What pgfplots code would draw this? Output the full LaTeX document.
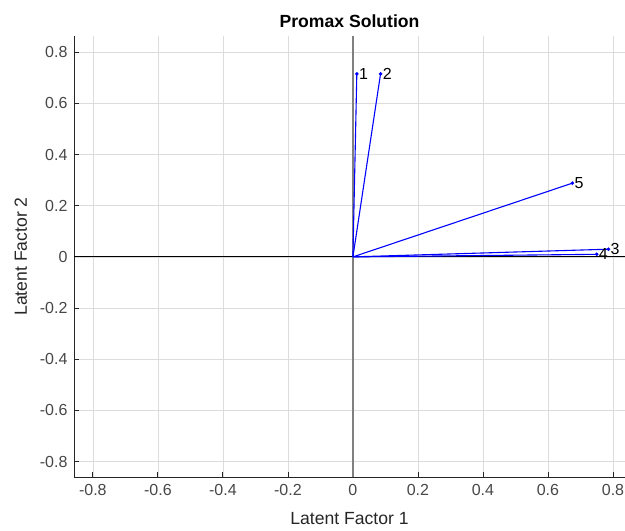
\documentclass[border=0pt]{standalone}
\usepackage{pgfplots}
\pgfplotsset{compat=1.18}
\usepackage{fontspec}
\setmainfont{Liberation Sans}
\definecolor{axgray}{RGB}{38,38,38}
\definecolor{gridgray}{RGB}{220,220,220}
\begin{document}
\begin{tikzpicture}[x=1pt,y=1pt]
\begin{axis}[
  scale only axis,
  width=551pt, height=441pt,
  xmin=-0.858, xmax=0.837,
  ymin=-0.86, ymax=0.863,
  axis x line*=bottom, axis y line*=left,
  axis line style={axgray, line width=0.8pt},
  xtick={-0.8,-0.6,...,0.81}, ytick={-0.8,-0.6,...,0.81},
  xticklabels={-0.8,-0.6,-0.4,-0.2,0,0.2,0.4,0.6,0.8},
  yticklabels={-0.8,-0.6,-0.4,-0.2,0,0.2,0.4,0.6,0.8},
  tick align=inside,
  major tick length=5pt,
  tick style={axgray, line width=0.8pt},
  grid=major,
  major grid style={gridgray, line width=0.7pt},
  ticklabel style={font=\fontsize{16}{18}\selectfont, text=axgray!85},
  xticklabel style={yshift=-4pt},
  yticklabel style={xshift=-3pt},
  xlabel={Latent Factor 1}, ylabel={Latent Factor 2},
  label style={font=\fontsize{17.6}{20}\selectfont, text=axgray},
  xlabel style={yshift=-10pt},
  ylabel style={yshift=6pt},
  title={Promax Solution},
  title style={font=\fontsize{17.6}{20}\selectfont\bfseries, yshift=-1pt},
  clip=false,
]
\addplot[gray, line width=2.6pt, forget plot] coordinates {(0,-0.86) (0,0.863)};
\addplot[black, line width=1pt, forget plot] coordinates {(-0.858,0) (0.837,0)};
% vectors
\addplot[blue, line width=1.1pt] coordinates {(0,0) (0.012,0.715)};
\addplot[blue, line width=1.1pt] coordinates {(0,0) (0.085,0.715)};
\addplot[blue, line width=1.1pt] coordinates {(0,0) (0.786,0.030)};
\addplot[blue, line width=1.1pt] coordinates {(0,0) (0.750,0.010)};
\addplot[blue, line width=1.1pt] coordinates {(0,0) (0.675,0.288)};
\addplot[blue, only marks, mark=*, mark size=1.6pt,
  nodes near coords, point meta=explicit symbolic,
  every node near coord/.style={anchor=west, font=\fontsize{16}{18}\selectfont, text=black, inner sep=1pt, xshift=1pt}]
  table[meta=lab] {
x y lab
0.012 0.715 1
0.085 0.715 2
0.786 0.030 3
0.750 0.010 4
0.675 0.288 5
};
\end{axis}
\pgfresetboundingbox
\path (current axis.south west) ++(-74,-53) coordinate (bbsw);
\path (current axis.north east) ++(0,36) coordinate (bbne);
\path[use as bounding box] (bbsw) rectangle (bbne);
\end{tikzpicture}
\end{document}
